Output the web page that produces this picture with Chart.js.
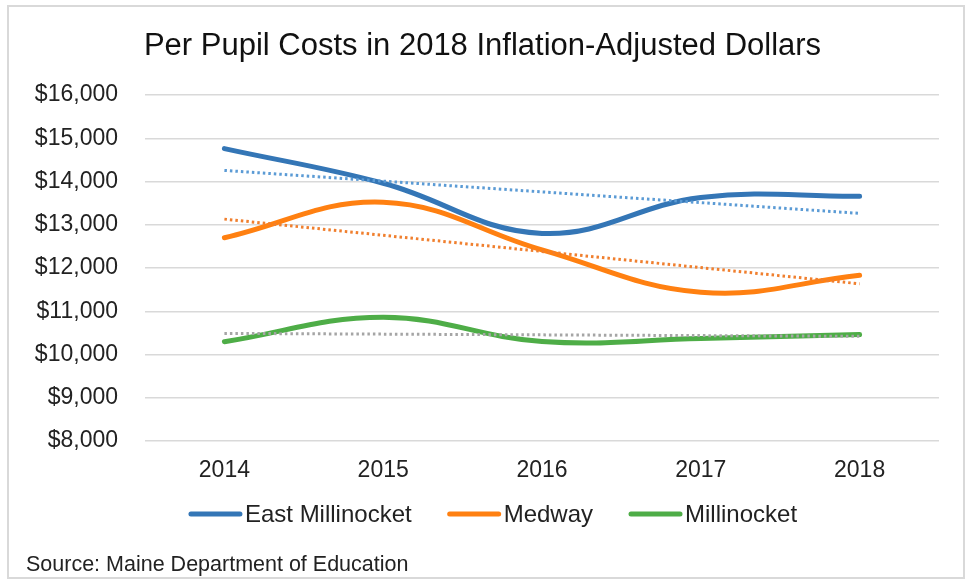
<!DOCTYPE html>
<html>
<head>
<meta charset="utf-8">
<script src="https://cdn.jsdelivr.net/npm/chart.js@4.4.1/dist/chart.umd.min.js"></script>
<style>
  body { margin: 0; background: #fff; }
  #box { position: absolute; left: 7px; top: 5px; width: 958px; height: 574px;
         border: 2px solid #d9d9d9; box-sizing: border-box; }
</style>
</head>
<body>
<div id="box"><canvas id="myChart"></canvas></div>
<script>
var years = ["2014", "2015", "2016", "2017", "2018"];
var eastMillinocket = [14760, 13960, 12800, 13630, 13660];
var medway = [12700, 13520, 12420, 11440, 11830];
var millinocket = [10295, 10860, 10300, 10370, 10460];
// trendlines, only the ends
var eastTrend = [14256, null, null, null, 13263];
var medwayTrend = [13130, null, null, null, 11635];
var millTrend = [10488, null, null, null, 10420];
var source = "Source: Maine Department of Education";

var font = "'Liberation Sans', Arial, sans-serif";

function series(label, data, color) {
    return {
        label: label, data: data, borderColor: color, backgroundColor: color,
        borderWidth: 5, pointRadius: 0, tension: 0.4, fill: false,
        borderCapStyle: 'round', order: 1
    };
}
function trend(data, color) {
    return {
        label: 'trend', data: data, borderColor: color, borderWidth: 3,
        borderDash: [2.5, 3], pointRadius: 0, tension: 0, spanGaps: true,
        fill: false, order: 0
    };
}

// legend like excel: short thick line, text right next to it, plus source line
var bottomLegend = {
    id: 'bottomLegend',
    afterDraw: function(chart) {
        var c = chart.ctx;
        var items = chart.data.datasets.filter(function(d) { return d.label !== 'trend'; });
        c.save();
        c.font = '24px ' + font;
        c.textBaseline = 'middle';
        var sample = 53, gap = 3, space = 36;
        var total = 0;
        items.forEach(function(d, i) {
            total += sample + gap + c.measureText(d.label).width + (i ? space : 0);
        });
        var x = 484 - total / 2, y = 507;
        items.forEach(function(d) {
            c.strokeStyle = d.borderColor;
            c.lineWidth = 5;
            c.lineCap = 'round';
            c.beginPath();
            c.moveTo(x + 2, y);
            c.lineTo(x + sample - 2, y);
            c.stroke();
            c.fillStyle = '#222';
            c.fillText(d.label, x + sample + gap, y + 1);
            x += sample + gap + c.measureText(d.label).width + space;
        });
        c.font = '21.5px ' + font;
        c.fillText(source, 17, 558);
        c.restore();
    }
};

var ctx = document.getElementById("myChart");
var myChart = new Chart(ctx, {
    type: 'line',
    data: {
        labels: years,
        datasets: [
            series("East Millinocket", eastMillinocket, "#3476B6"),
            series("Medway", medway, "#FF8011"),
            series("Millinocket", millinocket, "#4EAD47"),
            trend(eastTrend, "#5B9BD5"),
            trend(medwayTrend, "#F07F2E"),
            trend(millTrend, "#A5A5A5")
        ]
    },
    plugins: [bottomLegend],
    options: {
        responsive: true,
        maintainAspectRatio: false,
        animation: false,
        layout: { padding: { left: 17, right: 24, top: 0, bottom: 76.4 } },
        scales: {
            x: {
                offset: true,
                grid: { display: false, drawTicks: false },
                border: { display: false },
                ticks: { color: '#222', font: { family: font, size: 23 }, padding: 16 }
            },
            y: {
                min: 8000, max: 16000,
                afterFit: function(s) { s.width = 119; },
                grid: { color: '#d9d9d9', lineWidth: 1.5, drawTicks: false },
                border: { display: false },
                ticks: {
                    stepSize: 1000, color: '#222', padding: 27,
                    font: { family: font, size: 23 },
                    callback: function(v) { return '$' + v.toLocaleString('en-US'); }
                }
            }
        },
        plugins: {
            tooltip: { enabled: false },
            legend: { display: false },
            title: {
                display: true,
                text: 'Per Pupil Costs in 2018 Inflation-Adjusted Dollars',
                color: '#111',
                font: { family: font, size: 31, weight: 'normal' },
                padding: { top: 20.5, bottom: 30.3 }
            }
        }
    }
});
</script>
</body>
</html>
